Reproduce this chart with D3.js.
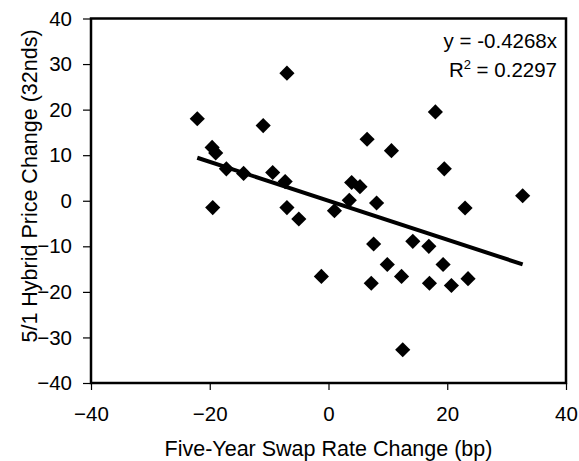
<!DOCTYPE html>
<html>
<head>
<meta charset="utf-8">
<script src="https://cdn.jsdelivr.net/npm/d3@7"></script>
<style>
  html, body { margin: 0; padding: 0; background: #fff; }
  svg { display: block; font-family: "Liberation Sans", Arial, sans-serif; }
</style>
</head>
<body>
<svg id="chart" width="579" height="461"></svg>
<script>
// Data
const swapChange = [-22.1, -7.0, -11.0, -19.6, -19.0, -17.2, -14.3, -9.4, -7.3, -19.5, -7.0, -5.0,
  18.0, 6.5, 10.6, 19.5, 32.7, 23.0, 3.9, 5.3, 3.5, 1.0, 8.1,
  7.6, 14.2, 16.9, 9.9, 19.3, -1.2, 12.3, 7.2, 17.0, 20.7, 23.5, 12.5];
const priceChange = [18.0, 28.0, 16.5, 11.7, 10.5, 7.0, 6.0, 6.2, 4.2, -1.5, -1.5, -4.0,
  19.5, 13.5, 11.0, 7.0, 1.1, -1.6, 4.0, 3.1, 0.1, -2.2, -0.5,
  -9.5, -8.9, -10.0, -14.0, -14.0, -16.6, -16.6, -18.1, -18.1, -18.6, -17.1, -32.7];
const slope = -0.4268;
const rSquared = "0.2297";
const xTicks = [-40, -20, 0, 20, 40];
const yTicks = [-40, -30, -20, -10, 0, 10, 20, 30, 40];
const xTitle = "Five-Year Swap Rate Change (bp)";
const yTitle = "5/1 Hybrid Price Change (32nds)";

const W = 579, H = 461;
const margin = { left: 91, right: 13, top: 18.5, bottom: 78 };
const iw = W - margin.left - margin.right;
const ih = H - margin.top - margin.bottom;

const svg = d3.select("#chart");
const g = svg.append("g").attr("transform", `translate(${margin.left},${margin.top})`);

const x = d3.scaleLinear().domain([-40, 40]).range([0, iw]);
const y = d3.scaleLinear().domain([-40, 40]).range([ih, 0]);

// Axes
const xAxis = d3.axisBottom(x).tickValues(xTicks).tickSize(7).tickPadding(16).tickSizeOuter(0);
const yAxis = d3.axisLeft(y).tickValues(yTicks).tickSize(8).tickPadding(11).tickSizeOuter(0);

const gx = g.append("g").attr("transform", `translate(0,${ih})`).call(xAxis);
const gy = g.append("g").call(yAxis);
[gx, gy].forEach(a => {
  a.select(".domain").remove();
  a.selectAll(".tick line").attr("stroke", "#000").attr("stroke-width", 1.2);
  a.selectAll(".tick text").attr("fill", "#000").style("font-size", "20.5px")
    .style("font-family", '"Liberation Sans", Arial, sans-serif');
});

// Plot frame
g.append("rect").attr("x", 0).attr("y", 0).attr("width", iw).attr("height", ih)
  .attr("fill", "none").attr("stroke", "#000").attr("stroke-width", 2.5);

// Points
const pts = swapChange.map((v, i) => ({ x: v, y: priceChange[i] }));
const diamond = d3.symbol().type(d3.symbolSquare).size(115);
g.selectAll("path.pt").data(pts).join("path")
  .attr("class", "pt")
  .attr("d", diamond)
  .attr("transform", d => `translate(${x(d.x)},${y(d.y)}) rotate(45)`)
  .attr("fill", "#000");

// Trend line
const xMin = d3.min(swapChange), xMax = d3.max(swapChange);
g.append("line")
  .attr("x1", x(xMin)).attr("y1", y(slope * xMin))
  .attr("x2", x(xMax)).attr("y2", y(slope * xMax))
  .attr("stroke", "#000").attr("stroke-width", 4);

// Equation annotation
const ann = g.append("text").attr("text-anchor", "end").attr("fill", "#000").style("font-size", "20.5px");
ann.append("tspan").attr("x", iw - 9).attr("y", 48 - margin.top).text(`y = ${slope}x`);
const r2 = g.append("text").attr("text-anchor", "end").attr("fill", "#000").style("font-size", "20.5px")
  .attr("x", iw - 9).attr("y", 77 - margin.top);
r2.append("tspan").text("R");
r2.append("tspan").attr("dy", -8).style("font-size", "13px").text("2");
r2.append("tspan").attr("dy", 8).text(` = ${rSquared}`);

// Axis titles
svg.append("text").attr("text-anchor", "middle").attr("fill", "#000").style("font-size", "21.5px")
  .attr("x", margin.left + iw / 2).attr("y", 456).text(xTitle);
svg.append("text").attr("text-anchor", "middle").attr("fill", "#000").style("font-size", "21.5px")
  .attr("transform", `translate(37,186) rotate(-90)`).text(yTitle);
</script>
</body>
</html>
